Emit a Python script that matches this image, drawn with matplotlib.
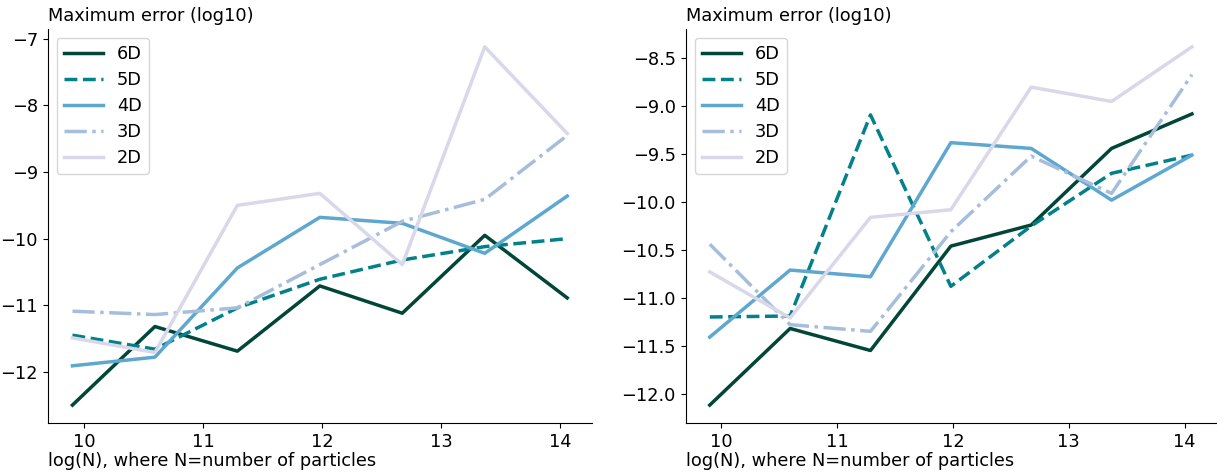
import numpy as np
import matplotlib
matplotlib.use("Agg")
import matplotlib.pyplot as plt

# particle counts: 20k doubling up to 1.28M
n_particles = [20000, 40000, 80000, 160000, 320000, 640000, 1280000]
log_n = np.log(n_particles)

dims = ["6D", "5D", "4D", "3D", "2D"]

# log10 of the maximum error, left panel
left_err = {
    "6D": [-12.50, -11.32, -11.69, -10.71, -11.12, -9.95, -10.89],
    "5D": [-11.45, -11.66, -11.04, -10.61, -10.32, -10.12, -10.00],
    "4D": [-11.91, -11.78, -10.44, -9.68, -9.77, -10.22, -9.36],
    "3D": [-11.09, -11.14, -11.04, -10.39, -9.74, -9.41, -8.45],
    "2D": [-11.49, -11.71, -9.50, -9.32, -10.39, -7.12, -8.42],
}

# log10 of the maximum error, right panel
right_err = {
    "6D": [-12.12, -11.32, -11.55, -10.46, -10.24, -9.44, -9.08],
    "5D": [-11.20, -11.19, -9.09, -10.88, -10.25, -9.70, -9.51],
    "4D": [-11.41, -10.71, -10.78, -9.38, -9.44, -9.98, -9.51],
    "3D": [-10.44, -11.28, -11.35, -10.31, -9.52, -9.91, -8.67],
    "2D": [-10.73, -11.21, -10.16, -10.08, -8.80, -8.95, -8.38],
}

colors = {"6D": "#014636", "5D": "#02818a", "4D": "#5ea8d0",
          "3D": "#a6bddb", "2D": "#d9d8ea"}
styles = {"6D": "-", "5D": "--", "4D": "-", "3D": "-.", "2D": "-"}

plt.rcParams["font.size"] = 12.75

fig = plt.figure(figsize=(12.17, 4.72), dpi=100)
ax_left = fig.add_axes([0.0392, 0.1038, 0.4472, 0.8348])
ax_right = fig.add_axes([0.5634, 0.1038, 0.4358, 0.8348])

for ax, err in zip([ax_left, ax_right], [left_err, right_err]):
    for d in dims:
        ax.plot(log_n, err[d], color=colors[d], linestyle=styles[d],
                linewidth=2.5, label=d)
    ax.set_title("Maximum error (log10)", loc="left", fontsize=12.75)
    ax.set_xlabel("log(N), where N=number of particles", loc="left", labelpad=1)
    ax.spines["top"].set_visible(False)
    ax.spines["right"].set_visible(False)
    ax.set_xticks([10, 11, 12, 13, 14])
    ax.legend(loc="upper left", handlelength=2.2, labelspacing=0.45,
              fontsize=12.75)

fig.savefig("out.png")
